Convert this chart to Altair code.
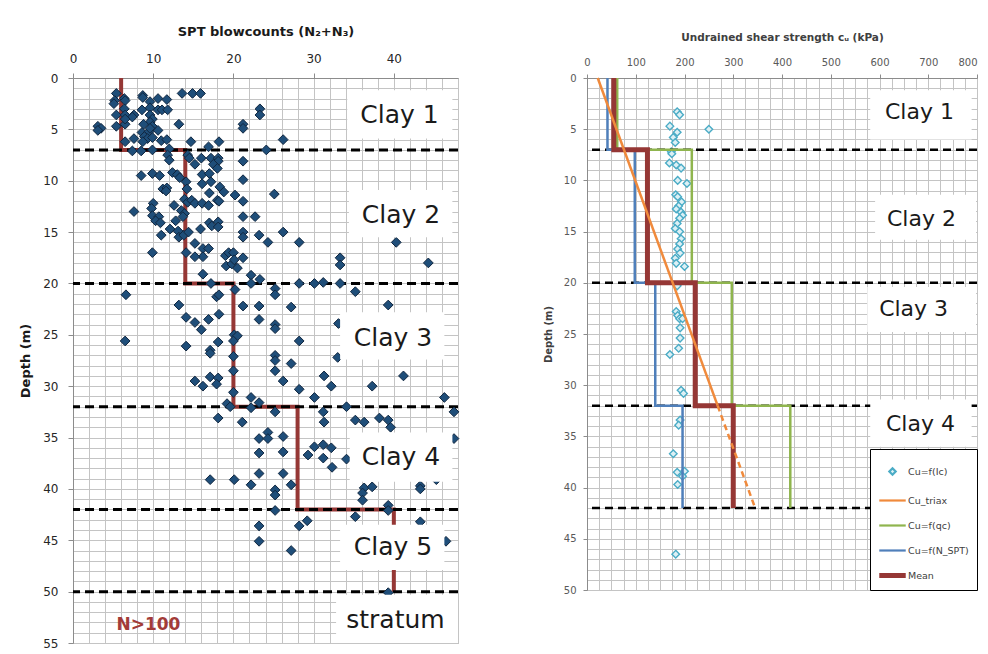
import altair as alt
import pandas as pd

FONT = "DejaVu Sans"
GRID = "#C4C4C4"
AXIS_LINE = "#8C8C8C"

# ---------------- left panel: SPT blowcounts ----------------
spt_n = [5.4, 13.6, 14.9, 15.9, 5.2, 5.1, 6.4, 6.5, 8.7, 8.7, 9.6, 10.6, 11.7, 8.6, 9.6, 10.6, 11.1, 11.8,
         5.4, 6.4, 6.5, 7.6, 7.4, 9.6, 9.9, 9.6, 8.8, 9.9, 13.2, 21.2, 21.2, 23.3, 23.3, 3.1, 3.5, 3.1,
         5.4, 6.5, 6.5, 10.6, 8.6, 9.5, 9.6, 8.9, 9.3, 9.9, 11.0, 11.7, 8.7, 7.6, 6.5, 26.2, 24.1, 7.4,
         8.5, 9.9, 12.0, 14.7, 16.9, 18.2, 11.8, 12.0, 14.3, 14.5, 16.0, 17.2, 18.1, 18.1, 17.5, 15.2,
         18.0, 21.2, 21.2, 25.1, 8.5, 9.9, 10.8, 12.4, 13.0, 13.3, 14.1, 16.1, 17.0, 17.2, 16.1, 18.3,
         11.2, 11.7, 11.6, 14.2, 17.0, 18.8, 20.2, 13.9, 14.3, 14.8, 15.2, 16.1, 18.0, 18.2, 21.2, 12.6,
         13.5, 13.9, 16.9, 10.0, 9.8, 7.6, 9.9, 10.7, 10.3, 10.9, 12.8, 13.7, 12.1, 15.9, 17.0, 18.1,
         17.3, 18.1, 21.2, 22.7, 11.0, 13.1, 13.2, 13.8, 14.4, 15.2, 16.2, 16.9, 16.2, 15.2, 14.1, 9.9,
         21.2, 21.2, 23.2, 24.3, 26.2, 28.2, 40.3, 44.3, 19.0, 19.4, 20.0, 19.1, 19.8, 20.1, 20.5, 21.2,
         16.2, 17.2, 22.2, 22.2, 23.3, 33.3, 33.3, 33.3, 28.2, 30.1, 31.2, 35.2, 25.2, 25.2, 20.2, 6.6,
         17.9, 18.2, 13.2, 21.2, 23.2, 27.2, 39.3, 14.1, 15.2, 16.9, 18.2, 23.2, 25.2, 25.2, 33.1, 16.0,
         6.5, 14.1, 17.1, 17.1, 18.1, 20.1, 20.5, 20.0, 20.0, 20.0, 20.0, 25.2, 25.2, 25.2, 27.2, 28.2,
         26.2, 15.2, 16.2, 17.1, 18.1, 17.9, 31.3, 32.2, 28.2, 30.1, 37.3, 41.2, 46.3, 33.0, 19.2, 19.6,
         18.1, 22.2, 23.2, 22.2, 25.2, 21.1, 31.2, 31.3, 34.1, 35.2, 36.3, 38.2, 39.3, 39.6, 47.5, 23.2,
         24.3, 24.3, 26.2, 23.2, 26.2, 29.3, 30.1, 31.2, 32.2, 31.2, 32.3, 34.1, 47.5, 23.2, 26.2, 27.2,
         22.2, 17.1, 20.1, 25.2, 25.2, 25.2, 36.3, 36.1, 36.1, 37.3, 43.3, 43.3, 45.3, 39.3, 39.3, 35.2,
         43.3, 28.2, 29.2, 23.2, 23.2, 27.2, 46.5, 39.3]
spt_depth = [1.5, 1.5, 1.5, 1.5, 2.2, 2.5, 2.0, 2.2, 1.7, 1.9, 2.3, 2.0, 2.1, 3.1, 2.9, 3.1, 3.1, 3.1,
             3.6, 3.0, 3.6, 3.6, 3.8, 3.6, 4.0, 4.3, 4.5, 4.7, 4.5, 4.5, 4.9, 3.0, 3.6, 4.7, 4.9, 5.1,
             4.7, 4.5, 4.0, 5.1, 5.3, 5.2, 4.9, 5.7, 5.9, 5.8, 6.1, 6.0, 6.2, 5.9, 6.2, 6.0, 7.0, 7.1,
             7.1, 7.0, 6.9, 6.2, 6.7, 6.2, 7.5, 8.0, 7.5, 7.8, 7.8, 7.8, 7.8, 8.1, 8.4, 8.4,
             8.8, 8.1, 9.9, 11.3, 9.5, 9.3, 9.5, 9.2, 9.4, 9.7, 10.1, 9.4, 9.3, 10.1, 10.3, 10.6,
             10.8, 10.7, 11.0, 10.8, 11.2, 11.1, 11.4, 11.8, 12.1, 11.9, 12.2, 12.2, 11.9, 12.0, 12.0, 12.4,
             12.9, 13.2, 12.4, 12.2, 12.7, 13.0, 13.4, 13.5, 13.9, 14.1, 13.9, 13.5, 14.7, 14.7, 14.1, 14.0,
             14.4, 14.5, 13.5, 13.5, 15.3, 14.9, 15.5, 15.3, 15.0, 16.1, 16.6, 16.6, 17.4, 17.4, 17.0, 17.0,
             15.0, 15.5, 15.3, 16.0, 15.0, 16.0, 16.0, 18.0, 17.3, 17.0, 17.0, 18.3, 18.1, 17.7, 18.5, 17.5,
             19.1, 20.0, 19.2, 20.0, 19.6, 17.5, 18.2, 20.0, 20.0, 20.0, 19.9, 20.8, 20.5, 21.1, 20.6, 21.1,
             21.3, 21.1, 22.1, 22.2, 22.2, 22.3, 22.1, 23.3, 23.8, 23.5, 23.0, 23.5, 24.0, 24.4, 23.9, 24.5,
             25.6, 26.1, 26.5, 26.8, 25.7, 25.0, 25.1, 25.6, 27.1, 28.5, 30.6, 27.0, 27.5, 28.5, 27.8, 25.6,
             29.5, 29.5, 30.0, 29.1, 29.2, 29.8, 29.0, 30.0, 30.3, 31.1, 30.0, 29.0, 31.1, 27.2, 31.7, 32.0,
             33.1, 31.1, 31.6, 32.1, 32.5, 33.5, 32.5, 33.5, 32.0, 33.3, 33.5, 33.1, 33.3, 34.0, 32.5, 35.1,
             34.5, 35.1, 34.9, 36.5, 36.4, 36.7, 35.9, 35.7, 36.0, 37.0, 37.9, 37.1, 35.1, 38.5, 38.5, 39.6,
             39.6, 39.1, 39.1, 40.1, 40.6, 42.1, 39.9, 40.4, 41.1, 39.8, 39.7, 40.0, 39.1, 41.6, 42.1, 42.7,
             43.2, 43.6, 43.1, 43.6, 45.1, 46.0, 45.1, 50.1]

spt_layer_top = [0, 7, 20, 32, 42]
spt_layer_bottom = [7, 20, 32, 42, 50]
spt_layer_mean = [6, 14, 20, 28, 40]
spt_boundaries = [7, 20, 32, 42, 50]

left_label_text = ["Clay 1", "Clay 2", "Clay 3", "Clay 4", "Clay 5", "stratum"]
left_label_n = [40.7, 40.9, 39.9, 40.9, 39.9, 40.2]
left_label_d = [3.6, 13.3, 25.3, 36.9, 45.7, 52.8]
left_box_n1 = [34.2, 34.4, 33.3, 34.5, 33.3, 32.8]
left_box_n2 = [47.3, 47.3, 46.3, 47.3, 46.3, 48.0]
left_box_d1 = [1.2, 10.9, 22.8, 34.5, 43.5, 50.3]
left_box_d2 = [5.9, 15.5, 27.4, 39.3, 47.9, 55.0]
note_text = ["N>100"]
note_n = [9.4]
note_d = [53.2]

# ---------------- right panel: undrained shear strength ----------------
cu_ic = [185, 190, 170, 250, 185, 177, 181, 173, 174, 169, 183, 193, 186, 205, 182, 186, 194, 188, 183,
         193, 196, 190, 185, 181, 190, 193, 190, 186, 191, 181, 183, 200, 185, 183, 186, 190, 196, 191,
         191, 188, 170, 193, 198, 191, 188, 177, 185, 200, 196, 186, 182]
cu_ic_depth = [3.3, 3.6, 4.7, 5.0, 5.3, 5.8, 6.3, 7.2, 7.4, 8.3, 8.5, 8.8, 10.0, 10.3, 11.4, 11.6, 12.1,
               12.5, 12.8, 13.1, 13.4, 13.7, 14.2, 14.7, 15.0, 15.7, 16.2, 16.7, 17.1, 17.6, 18.1, 18.4,
               20.3, 22.8, 23.2, 23.5, 23.5, 24.4, 25.4, 26.4, 27.0, 30.5, 30.8, 33.4, 33.9, 36.7, 38.5,
               38.4, 38.9, 39.7, 46.5]
cu_layer_top = [0, 7, 20, 32]
cu_layer_bottom = [7, 20, 32, 42]
cu_qc = [62, 215, 297, 417]
cu_nspt = [42, 98, 140, 196]
cu_mean = [55, 124, 222, 300]
triax_depth_solid = [0, 32]
triax_cu_solid = [22, 268]
triax_depth_dashed = [32, 42]
triax_cu_dashed = [268, 345]
cu_boundaries = [7, 20, 32, 42]

right_label_text = ["Clay 1", "Clay 2", "Clay 3", "Clay 4"]
right_label_cu = [682, 686, 670, 684]
right_label_d = [3.3, 13.8, 22.6, 33.8]
right_box_cu1 = [581, 591, 575, 581]
right_box_cu2 = [789, 798, 798, 789]
right_box_d1 = [1.2, 11.4, 20.4, 31.4]
right_box_d2 = [6.0, 15.8, 24.8, 36.0]

series_names = ["Cu=f(Ic)", "Cu_triax", "Cu=f(qc)", "Cu=f(N_SPT)", "Mean"]
series_colors = ["#4BACC6", "#F08A3C", "#8FB54E", "#4F7FBA", "#953735"]


def step_rows(tops, bottoms, values, vkey, dkey):
    rows = []
    for t, b, v in zip(tops, bottoms, values):
        rows.append({vkey: v, dkey: t, "i": len(rows)})
        rows.append({vkey: v, dkey: b, "i": len(rows)})
    return pd.DataFrame(rows)


def show_every(step):
    return {"condition": {"test": f"datum.value % {step} === 0", "value": 1}, "value": 0}


# ---------------- left chart ----------------
lx_scale = alt.Scale(domain=[0, 48], nice=False, zero=False)
ly_scale = alt.Scale(domain=[0, 55], nice=False, zero=False, reverse=True)
lx_axis = alt.Axis(orient="top", title="SPT blowcounts (N₂+N₃)", values=list(range(0, 49, 2)),
                   labelExpr="datum.value % 10 === 0 ? datum.label : ''", tickOpacity=show_every(10),
                   labelFlush=False, labelOverlap=False, grid=True, gridColor=GRID, gridWidth=1,
                   domainColor=AXIS_LINE, tickColor=AXIS_LINE, tickSize=5, labelPadding=8,
                   labelFont=FONT, labelFontSize=12, labelColor="#262626",
                   titleFont=FONT, titleFontSize=13, titleFontWeight="bold", titleColor="#1a1a1a",
                   titlePadding=14)
ly_axis = alt.Axis(title="Depth (m)", values=list(range(0, 56)),
                   labelExpr="datum.value % 5 === 0 ? datum.label : ''", tickOpacity=show_every(5),
                   labelFlush=False, labelOverlap=False, grid=True, gridColor=GRID, gridWidth=1,
                   domainColor=AXIS_LINE, tickColor=AXIS_LINE, tickSize=5, labelPadding=10,
                   labelFont=FONT, labelFontSize=12, labelColor="#262626",
                   titleFont=FONT, titleFontSize=13, titleFontWeight="bold", titleColor="#1a1a1a",
                   titlePadding=10)


def LX(f):
    return alt.X(f"{f}:Q", scale=lx_scale, axis=lx_axis)


def LY(f):
    return alt.Y(f"{f}:Q", scale=ly_scale, axis=ly_axis)


spt_df = pd.DataFrame({"n": spt_n, "d": spt_depth})
left_points = alt.Chart(spt_df).mark_point(
    shape="diamond", filled=True, size=95, fill="#1F4E79", stroke="#10263F", strokeWidth=1, opacity=1
).encode(x=LX("n"), y=LY("d"))

left_mean = alt.Chart(step_rows(spt_layer_top, spt_layer_bottom, spt_layer_mean, "n", "d")).mark_line(
    color="#953735", strokeWidth=4
).encode(x=LX("n"), y=LY("d"), order="i:Q")

left_rules = alt.Chart(pd.DataFrame({"d": spt_boundaries})).mark_rule(
    color="black", strokeWidth=3, strokeDash=[9, 5]
).encode(y=LY("d"))

left_box_df = pd.DataFrame({"n1": left_box_n1, "n2": left_box_n2, "d1": left_box_d1, "d2": left_box_d2})
left_boxes = alt.Chart(left_box_df).mark_rect(fill="white", opacity=1).encode(
    x=LX("n1"), x2="n2:Q", y=LY("d1"), y2="d2:Q")

left_lab_df = pd.DataFrame({"label": left_label_text, "n": left_label_n, "d": left_label_d})
left_text = alt.Chart(left_lab_df).mark_text(
    font=FONT, fontSize=25, color="#1a1a1a", align="center", baseline="middle"
).encode(x=LX("n"), y=LY("d"), text="label:N")

note_df = pd.DataFrame({"label": note_text, "n": note_n, "d": note_d})
left_note = alt.Chart(note_df).mark_text(
    font=FONT, fontSize=17, fontWeight="bold", color="#A23B38", align="center", baseline="middle"
).encode(x=LX("n"), y=LY("d"), text="label:N")

left = alt.layer(left_mean, left_rules, left_points, left_boxes, left_text, left_note).properties(
    width=385, height=565)

# ---------------- right chart ----------------
rx_scale = alt.Scale(domain=[0, 800], nice=False, zero=False)
ry_scale = alt.Scale(domain=[0, 50], nice=False, zero=False, reverse=True)
rx_axis = alt.Axis(orient="top", title="Undrained shear strength cᵤ  (kPa)", values=list(range(0, 801, 25)),
                   labelExpr="datum.value % 100 === 0 ? datum.label : ''", tickOpacity=show_every(100),
                   labelAlign={"condition": {"test": "datum.value === 800", "value": "right"}, "value": "center"},
                   labelFlush=False, labelOverlap=False, grid=True, gridColor=GRID, gridWidth=1,
                   domainColor=AXIS_LINE, tickColor=AXIS_LINE, tickSize=4, labelPadding=7,
                   labelFont=FONT, labelFontSize=10, labelColor="#595959",
                   titleFont=FONT, titleFontSize=10.5, titleFontWeight="bold", titleColor="#404040",
                   titlePadding=15)
ry_axis = alt.Axis(title="Depth (m)", values=list(range(0, 51)),
                   labelExpr="datum.value % 5 === 0 ? datum.label : ''", tickOpacity=show_every(5),
                   labelFlush=False, labelOverlap=False, grid=True, gridColor=GRID, gridWidth=1,
                   domainColor=AXIS_LINE, tickColor=AXIS_LINE, tickSize=4, labelPadding=7,
                   labelFont=FONT, labelFontSize=10, labelColor="#595959",
                   titleFont=FONT, titleFontSize=10, titleFontWeight="bold", titleColor="#404040",
                   titlePadding=10)


def RX(f):
    return alt.X(f"{f}:Q", scale=rx_scale, axis=rx_axis)


def RY(f):
    return alt.Y(f"{f}:Q", scale=ry_scale, axis=ry_axis)


DIAMOND = "M0,-0.24L0.24,0L0,0.24L-0.24,0Z"
LINE = "M-1,0H1"
THICK = "M-1,-0.1H1M-1,0H1M-1,0.1H1"
color_scale = alt.Scale(domain=series_names, range=series_colors)
shape_scale = alt.Scale(domain=series_names, range=[DIAMOND, LINE, LINE, LINE, THICK])
legend = alt.Legend(title=None, orient="bottom-right", offset=0, fillColor="white", strokeColor="black",
                    padding=8, symbolSize=700, symbolStrokeWidth=2.2, labelFont=FONT, labelFontSize=9.5,
                    labelColor="#404040", rowPadding=6, labelOffset=1, labelLimit=200)

ic_df = pd.DataFrame({"cu": cu_ic, "d": cu_ic_depth, "series": [series_names[0]] * len(cu_ic)})
right_points = alt.Chart(ic_df).mark_point(
    filled=False, fill="#DDF0F5", strokeWidth=1.4, size=1000, opacity=1
).encode(x=RX("cu"), y=RY("d"),
         color=alt.Color("series:N", scale=color_scale, legend=legend),
         shape=alt.Shape("series:N", scale=shape_scale, legend=legend))


def right_step(values, color, width):
    df = step_rows(cu_layer_top, cu_layer_bottom, values, "cu", "d")
    return alt.Chart(df).mark_line(color=color, strokeWidth=width).encode(
        x=RX("cu"), y=RY("d"), order="i:Q")


right_qc = right_step(cu_qc, series_colors[2], 2.5)
right_nspt = right_step(cu_nspt, series_colors[3], 2.5)
right_mean = right_step(cu_mean, series_colors[4], 5)

tri_solid = alt.Chart(pd.DataFrame({"cu": triax_cu_solid, "d": triax_depth_solid})).mark_line(
    color=series_colors[1], strokeWidth=2.5).encode(x=RX("cu"), y=RY("d"))
tri_dash = alt.Chart(pd.DataFrame({"cu": triax_cu_dashed, "d": triax_depth_dashed})).mark_line(
    color=series_colors[1], strokeWidth=2.5, strokeDash=[6, 4]).encode(x=RX("cu"), y=RY("d"))

right_rules = alt.Chart(pd.DataFrame({"d": cu_boundaries})).mark_rule(
    color="black", strokeWidth=2.5, strokeDash=[8, 5]
).encode(y=RY("d"))

right_box_df = pd.DataFrame({"c1": right_box_cu1, "c2": right_box_cu2, "d1": right_box_d1, "d2": right_box_d2})
right_boxes = alt.Chart(right_box_df).mark_rect(fill="white", opacity=1).encode(
    x=RX("c1"), x2="c2:Q", y=RY("d1"), y2="d2:Q")

right_lab_df = pd.DataFrame({"label": right_label_text, "cu": right_label_cu, "d": right_label_d})
right_text = alt.Chart(right_lab_df).mark_text(
    font=FONT, fontSize=22, color="#1a1a1a", align="center", baseline="middle"
).encode(x=RX("cu"), y=RY("d"), text="label:N")

right = alt.layer(right_points, right_rules, right_qc, right_nspt, right_mean, tri_solid, tri_dash,
                  right_boxes, right_text).properties(width=390, height=512)

chart = alt.hconcat(left, right, spacing=129, bounds="flush").resolve_scale(
    color="independent", shape="independent"
).properties(
    padding={"left": 11, "top": 16, "right": 0, "bottom": 0}
).configure_view(stroke="#A6A6A6", strokeWidth=1)

chart.save("out.html", embed_options={"renderer": "svg", "actions": False})
